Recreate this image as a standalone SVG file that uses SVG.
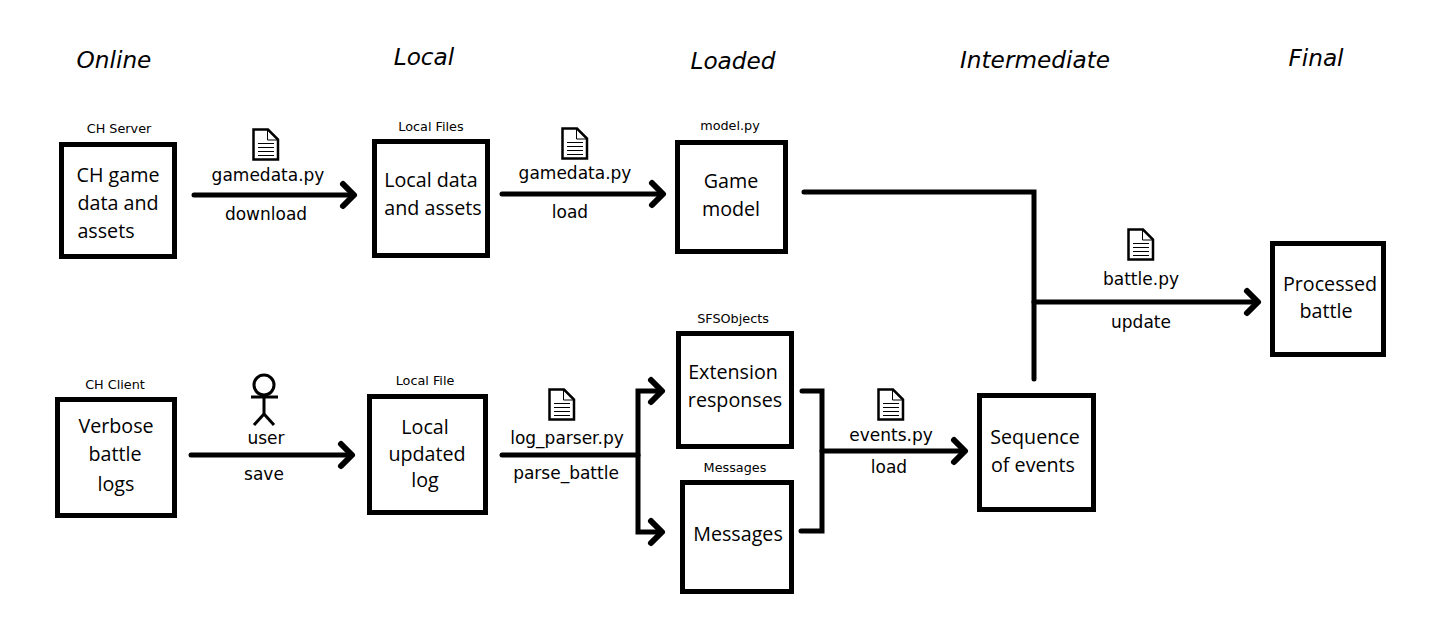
<svg xmlns="http://www.w3.org/2000/svg" xmlns:xlink="http://www.w3.org/1999/xlink" width="1448" height="632" viewBox="0 0 1448 632">
<style>
.box{fill:#fff;stroke:#000;stroke-width:5}
.wire{fill:none;stroke:#000;stroke-width:5;stroke-linecap:round;stroke-linejoin:miter}
.plain{fill:none;stroke:#000;stroke-width:5;stroke-linecap:butt}
.head{fill:none;stroke:#000;stroke-width:6;stroke-linecap:round;stroke-linejoin:round}
.t{font-family:"Open Sans","Noto Sans",sans-serif;font-size:19.7px;fill:#000;text-anchor:middle}
.e{font-family:"DejaVu Sans",sans-serif;font-size:17px;fill:#000;text-anchor:middle}
.s{font-family:"DejaVu Sans",sans-serif;font-size:12.8px;fill:#000;text-anchor:middle}
.h{font-family:"DejaVu Sans",sans-serif;font-style:italic;font-size:23.2px;fill:#000;text-anchor:middle}
.doc{fill:#fff;stroke:#000;stroke-width:2.5}
.thin{fill:none;stroke:#000;stroke-width:1}
</style>
<defs>
<g id="doc">
<path class="doc" d="M1.500 1.500H16L26 11.500V31.500H1.500Z"/>
<path class="thin" d="M15.500 2V12H26M6 15.500H22M6 19.500H22M6 23.500H22M6 27.500H22"/>
</g>
</defs>
<rect width="1448" height="632" fill="#fff"/>
<g id="headers">
<text class="h" x="114" y="68">Online</text>
<text class="h" x="424" y="65">Local</text>
<text class="h" x="733" y="69">Loaded</text>
<text class="h" x="1035" y="68">Intermediate</text>
<text class="h" x="1316" y="66">Final</text>
</g>
<g id="connectors">
<path class="wire" d="M194 195H352"/><path class="head" d="M343 184L354 195L343 206"/>
<path class="wire" d="M502 194H661"/><path class="head" d="M652 183L663 194L652 205"/>
<path class="wire" d="M191 455H350"/><path class="head" d="M341 444L352 455L341 466"/>
<path class="wire" d="M502 455H638"/>
<path class="plain" d="M661 391H638V532H661"/>
<path class="head" d="M651 380L662 391L651 402"/><path class="head" d="M651 521L662 532L651 543"/>
<path class="wire" d="M802 391H822V531H801"/>
<path class="wire" d="M822 451H964"/><path class="head" d="M954 440L965 451L954 462"/>
<path class="wire" d="M804 192H1034V379"/>
<path class="wire" d="M1034 302H1257"/><path class="head" d="M1247 291L1258 302L1247 313"/>
</g>
<g id="n-server"><text class="s" x="119" y="133">CH Server</text><rect class="box" x="61.500" y="144.500" width="113" height="112"/><text class="t" x="118" y="182">CH game</text><text class="t" x="118" y="210">data and</text><text class="t" x="106" y="238">assets</text></g>
<g id="n-localdata"><text class="s" x="431" y="131">Local Files</text><rect class="box" x="374.500" y="141.500" width="113" height="114"/><text class="t" x="431" y="187">Local data</text><text class="t" x="433" y="215">and assets</text></g>
<g id="n-model"><text class="s" x="730" y="130">model.py</text><rect class="box" x="677.500" y="142.500" width="108" height="109"/><text class="t" x="731" y="188">Game</text><text class="t" x="731" y="216">model</text></g>
<g id="n-logs"><text class="s" x="115" y="389">CH Client</text><rect class="box" x="57.500" y="399.500" width="117" height="116"/><text class="t" x="116" y="433">Verbose</text><text class="t" x="115" y="461">battle</text><text class="t" x="116" y="491">logs</text></g>
<g id="n-localfile"><text class="s" x="425" y="385">Local File</text><rect class="box" x="369.500" y="396.500" width="116" height="116"/><text class="t" x="425" y="434">Local</text><text class="t" x="427" y="461">updated</text><text class="t" x="425" y="487">log</text></g>
<g id="n-ext"><text class="s" x="733" y="323">SFSObjects</text><rect class="box" x="678.500" y="333.500" width="113" height="113"/><text class="t" x="733" y="379">Extension</text><text class="t" x="735" y="407">responses</text></g>
<g id="n-msg"><text class="s" x="735" y="472">Messages</text><rect class="box" x="682.500" y="482.500" width="109" height="109"/><text class="t" x="738" y="541">Messages</text></g>
<g id="n-seq"><rect class="box" x="979.500" y="395.500" width="114" height="114"/><text class="t" x="1035" y="444">Sequence</text><text class="t" x="1033" y="472">of events</text></g>
<g id="n-final"><rect class="box" x="1272.500" y="243.500" width="111" height="111"/><text class="t" x="1330" y="291">Processed</text><text class="t" x="1326" y="318">battle</text></g>
<g id="edge-labels">
<use xlink:href="#doc" href="#doc" x="252" y="128"/>
<text class="e" x="268" y="181">gamedata.py</text><text class="e" x="266" y="220">download</text>
<use xlink:href="#doc" href="#doc" x="561" y="127"/>
<text class="e" x="575" y="179">gamedata.py</text><text class="e" x="570" y="218">load</text>
<g id="user" fill="none" stroke="#000" stroke-width="3"><circle cx="264" cy="385" r="10"/><path d="M264 395V414M251 397H278M254 425L264 414L274 425"/></g>
<text class="e" x="266" y="444">user</text><text class="e" x="264" y="480">save</text>
<use xlink:href="#doc" href="#doc" x="548" y="388"/>
<text class="e" x="567" y="444">log_parser.py</text><text class="e" x="566" y="479">parse_battle</text>
<use xlink:href="#doc" href="#doc" x="877" y="388"/>
<text class="e" x="891" y="441">events.py</text><text class="e" x="889" y="473">load</text>
<use xlink:href="#doc" href="#doc" x="1127" y="228"/>
<text class="e" x="1141" y="285">battle.py</text><text class="e" x="1141" y="328">update</text>
</g>
</svg>
